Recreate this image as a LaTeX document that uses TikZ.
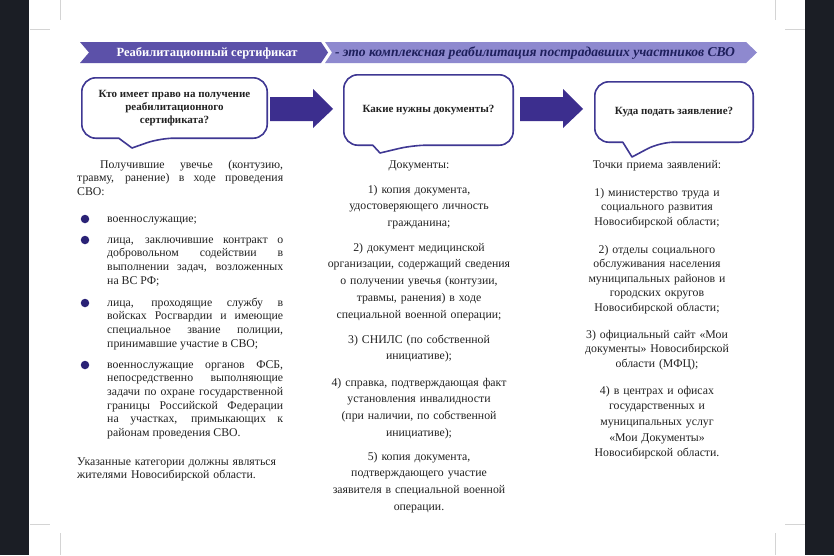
\documentclass[tikz,border=0pt]{standalone}
\usepackage{fontspec}
\setmainfont{Liberation Serif}
\usetikzlibrary{calc,positioning}
\definecolor{ink}{HTML}{222222}
\definecolor{bar}{HTML}{1B1E25}
\definecolor{ribdark}{HTML}{5C51A9}
\definecolor{riblight}{HTML}{8E89CF}
\definecolor{ribtext}{HTML}{1E1F5C}
\definecolor{bubc}{HTML}{3F3893}
\definecolor{arrc}{HTML}{3C2E8E}
\definecolor{dotc}{HTML}{2A2276}
\definecolor{cropc}{HTML}{D4D4D4}
\tikzset{
  bubline/.style={draw=bubc,line width=1.6pt,line join=round},
  qtext/.style={font=\bfseries\fontsize{11}{13}\selectfont,align=center,text=ink,
    inner sep=0pt},
  body/.style={font=\fontsize{11.8}{13.7}\selectfont,text=ink,inner sep=0pt,anchor=base},
  colbody/.style={body,text width=215pt,align=center,font=\fontsize{11.8}{#1}\selectfont},
  colbody/.default=16.8,
  dot/.style={circle,fill=dotc,minimum size=8.5pt,inner sep=0pt},
  blockarr/.style={fill=arrc},
  cropline/.style={draw=cropc,line width=0.7pt},
}
\begin{document}
\begin{tikzpicture}[x=1pt,y=-1pt]
  \useasboundingbox (0,0) rectangle (834,555);
  \fill[white] (0,0) rectangle (834,555);
  \fill[bar] (0,0) rectangle (29,555);
  \fill[bar] (805,0) rectangle (834,555);
  % crop marks
  \draw[cropline] (60,0) -- (60,20) (30,29) -- (50,29) (775,0) -- (775,20) (785,29) -- (805,29);
  \draw[cropline] (30,524) -- (50,524) (60,533) -- (60,555) (785,524) -- (805,524) (775,533) -- (775,555);

  % banner
  \fill[ribdark]  (80,42) -- (321,42) -- (328,52.5) -- (321,63) -- (80,63) -- (89,52.5) -- cycle;
  \fill[riblight] (325,42) -- (746,42) -- (757,52.5) -- (746,63) -- (325,63) -- (332,52.5) -- cycle;
  \node[font=\bfseries\fontsize{12.5}{14}\selectfont,text=white] (rib1) at (207,53)
    {Реабилитационный сертификат};
  \node[font=\bfseries\itshape\fontsize{13.6}{14}\selectfont,text=ribtext] (rib2) at (535,53)
    {- это комплексная реабилитация пострадавших участников СВО};

  % bubbles
  \node[qtext,minimum width=185pt,minimum height=60pt] (q1) at (174.5,108)
    {Кто имеет право на получение\\реабилитационного\\сертификата?};
  \node[qtext,minimum width=169pt,minimum height=70pt] (q2) at (428.5,110)
    {Какие нужны документы?};
  \node[qtext,minimum width=158pt,minimum height=60pt] (q3) at (674,112)
    {Куда подать заявление?};
  \coordinate (t1) at (132,148);
  \coordinate (t2) at (380,153);
  \coordinate (t3) at (632,157);
  \draw[bubline] ($(q1.south west)+(37,0)$) [rounded corners=14pt] -- (q1.south west)
    -- (q1.north west) -- (q1.north east) -- (q1.south east) -- ($(q1.south west)+(78,0)$)
    [sharp corners] -- (t1) -- cycle;
  \draw[bubline] ($(q2.south west)+(29,0)$) [rounded corners=14pt] -- (q2.south west)
    -- (q2.north west) -- (q2.north east) -- (q2.south east) -- ($(q2.south west)+(69,0)$)
    [sharp corners] -- (t2) -- cycle;
  \draw[bubline] ($(q3.south west)+(28,0)$) [rounded corners=14pt] -- (q3.south west)
    -- (q3.north west) -- (q3.north east) -- (q3.south east) -- ($(q3.south west)+(65,0)$)
    [sharp corners] -- (t3) -- cycle;

  % block arrows
  \fill[blockarr] (270,97) -- (313,97) -- (313,89) -- (333,109) -- (313,128) -- (313,121)
    -- (270,121) -- cycle;
  \fill[blockarr] (520,97) -- (563,97) -- (563,89) -- (583,109) -- (563,128) -- (563,121)
    -- (520,121) -- cycle;

  % column 1
  \node[body,text width=206pt,align=justify,anchor=base west] (p1) at (77,168)
    {\hspace*{23pt}Получившие увечье (контузию,\linebreak травму, ранение) в ходе проведения СВО:};
  \node[dot] (d1) at (85,219) {};
  \node[dot] (d2) at (85,240) {};
  \node[dot] (d3) at (85,303) {};
  \node[dot] (d4) at (85,365) {};
  \node[body,text width=176pt,align=justify,anchor=base west] (b1) at (107,222)
    {военнослужащие;};
  \node[body,text width=176pt,align=justify,anchor=base west] (b2) at (107,243)
    {лица, заключившие контракт о\linebreak добровольном содействии в\linebreak
     выполнении задач, возложенных\linebreak на ВС РФ;};
  \node[body,text width=176pt,align=justify,anchor=base west] (b3) at (107,306)
    {лица, проходящие службу в\linebreak войсках Росгвардии и имеющие\linebreak
     специальное звание полиции,\linebreak принимавшие участие в СВО;};
  \node[body,text width=176pt,align=justify,anchor=base west] (b4) at (107,368)
    {военнослужащие органов ФСБ,\linebreak непосредственно выполняющие\linebreak
     задачи по охране государственной\linebreak границы Российской Федерации\linebreak
     на участках, примыкающих к\linebreak районам проведения СВО.};
  \node[body,text width=206pt,align=left,anchor=base west] (p2) at (77,465)
    {Указанные категории должны являться\\жителями Новосибирской области.};

  % column 2
  \node[colbody] (n0) at (419,168) {Документы:};
  \node[colbody] (n1) at (419,193)
    {1) копия документа,\\удостоверяющего личность\\гражданина;};
  \node[colbody] (n2) at (419,251)
    {2) документ медицинской\\организации, содержащий сведения\\о получении увечья (контузии,\\
     травмы, ранения) в ходе\\специальной военной операции;};
  \node[colbody] (n3) at (419,343) {3) СНИЛС (по собственной\\инициативе);};
  \node[colbody] (n4) at (419,386)
    {4) справка, подтверждающая факт\\установления инвалидности\\(при наличии, по собственной\\
     инициативе);};
  \node[colbody] (n5) at (419,460)
    {5) копия документа,\\подтверждающего участие\\заявителя в специальной военной\\операции.};

  % column 3
  \node[colbody] (m0) at (657,168) {Точки приема заявлений:};
  \node[colbody=14.6] (m1) at (657,196)
    {1) министерство труда и\\социального развития\\Новосибирской области;};
  \node[colbody=14.6] (m2) at (657,253)
    {2) отделы социального\\обслуживания населения\\муниципальных районов и\\
     городских округов\\Новосибирской области;};
  \node[colbody=14.6] (m3) at (657,338)
    {3) официальный сайт «Мои\\документы» Новосибирской\\области (МФЦ);};
  \node[colbody=15.7] (m4) at (657,394)
    {4) в центрах и офисах\\государственных и\\муниципальных услуг\\«Мои Документы»\\
     Новосибирской области.};
\end{tikzpicture}
\end{document}
